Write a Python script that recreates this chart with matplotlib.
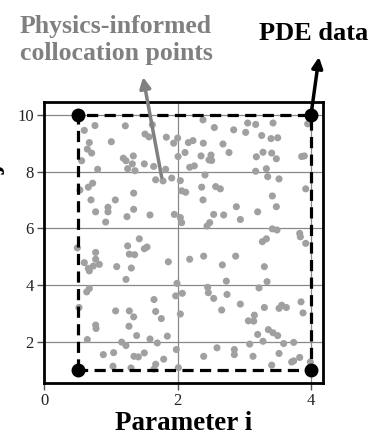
import numpy as np
import matplotlib.pyplot as plt

plt.rcParams['font.family'] = ['Liberation Serif', 'DejaVu Serif']

# corners of the PDE data box
pde_i = [0.5, 0.5, 4.0, 4.0]
pde_j = [1.0, 10.0, 10.0, 1.0]

# collocation points (parameter i, parameter j)
col_i = [0.60, 0.76, 0.675, 0.645, 0.71, 0.56, 0.80, 1.005, 1.215, 1.185,
         1.225, 1.335, 1.32, 1.25, 1.36, 1.50, 1.51, 1.57, 1.62, 1.64,
         1.67, 1.78, 1.82, 1.83, 1.91, 1.94, 2.00, 2.006, 2.04, 2.06,
         2.12, 2.16, 2.11, 2.18, 2.25, 0.535, 0.66, 0.725, 0.70, 0.77,
         1.065, 0.955, 0.955, 0.92, 1.24, 1.34, 1.34, 1.585, 1.95, 2.04,
         2.06, 0.495, 0.60, 0.77, 0.77, 0.825, 0.66, 1.086, 1.25, 1.275,
         1.355, 1.425, 1.50, 1.54, 1.305, 1.86, 2.18, 0.675, 0.735, 1.225,
         0.675, 0.636, 0.52, 0.77, 0.776, 0.645, 1.07, 1.275, 1.34, 1.27,
         1.385, 1.16, 1.225, 0.885, 1.04, 1.03, 1.30, 1.345, 1.41, 1.50,
         1.645, 1.67, 1.755, 1.585, 1.695, 1.845, 1.79, 1.67, 1.645, 1.98,
         2.01, 1.99, 1.97, 2.07, 2.04, 2.38, 2.55, 2.84, 3.02, 3.05,
         3.17, 3.43, 3.95, 3.26, 3.40, 3.50, 2.23, 2.385, 2.68, 2.35,
         2.50, 2.47, 2.51, 2.77, 3.18, 3.28, 3.41, 3.48, 3.86, 3.90,
         2.41, 3.17, 3.33, 3.35, 3.52, 2.36, 2.57, 2.64, 2.38, 3.92,
         3.42, 2.88, 3.48, 2.54, 2.69, 3.20, 2.94, 2.44, 2.48, 3.42,
         3.49, 3.83, 3.84, 3.27, 3.33, 3.92, 2.39, 2.87, 2.67, 3.30,
         3.34, 3.22, 2.73, 2.45, 2.46, 2.54, 2.74, 2.66, 2.94, 3.30,
         3.52, 3.56, 3.63, 3.85, 3.88, 3.06, 3.14, 3.15, 3.36, 3.43,
         3.50, 3.20, 3.08, 3.28, 3.59, 3.74, 2.59, 2.85, 2.85, 2.39,
         3.13, 3.52, 3.83, 3.74, 3.71, 3.41, 3.99]
col_j = [9.45, 9.62, 9.02, 8.79, 8.65, 8.38, 8.08, 9.05, 9.61, 8.47,
         8.38, 8.55, 8.27, 8.10, 8.03, 8.27, 9.32, 9.22, 9.65, 8.18,
         7.71, 7.67, 8.08, 9.21, 7.77, 9.00, 9.18, 8.53, 7.68, 7.32,
         7.27, 9.02, 8.67, 8.15, 8.20, 7.35, 7.45, 7.59, 7.00, 6.58,
         7.00, 6.74, 6.58, 6.22, 6.41, 6.67, 7.24, 6.47, 6.49, 6.38,
         6.20, 5.31, 4.79, 5.15, 4.91, 4.73, 4.59, 4.65, 5.38, 5.09,
         5.07, 5.63, 5.28, 5.34, 4.60, 4.82, 4.91, 4.50, 4.67, 4.20,
         3.88, 3.76, 3.21, 2.59, 2.47, 2.08, 3.09, 3.09, 2.88, 2.55,
         2.22, 1.99, 1.87, 1.55, 1.62, 1.14, 1.08, 1.49, 1.47, 1.61,
         3.49, 3.07, 2.82, 2.10, 1.96, 2.20, 1.39, 1.21, 1.04, 1.73,
         1.09, 4.06, 3.62, 3.71, 2.98, 9.82, 9.55, 9.47, 9.38, 9.71,
         9.66, 9.71, 9.68, 9.27, 9.16, 9.19, 9.09, 9.00, 8.97, 8.55,
         8.58, 8.41, 8.39, 8.67, 8.52, 8.68, 8.65, 8.45, 8.53, 8.55,
         7.88, 8.01, 8.10, 7.82, 7.74, 7.45, 7.47, 7.39, 7.00, 7.39,
         7.14, 6.76, 6.76, 6.49, 6.47, 6.58, 6.31, 6.08, 6.20, 5.98,
         5.94, 5.82, 5.70, 5.53, 5.63, 5.47, 5.02, 5.02, 4.71, 4.65,
         4.12, 3.90, 4.14, 3.92, 3.73, 3.53, 3.67, 3.12, 3.33, 3.21,
         3.18, 3.29, 3.21, 3.41, 3.02, 2.74, 2.73, 2.94, 2.43, 2.32,
         2.22, 2.26, 1.92, 2.02, 1.94, 1.98, 1.79, 1.73, 1.55, 1.49,
         1.49, 1.59, 1.45, 1.33, 1.29, 1.18, 1.29]

xticks = [0, 2, 4]
yticks = [2, 4, 6, 8, 10]

W, H = 373, 437
fig = plt.figure(figsize=(W / 100, H / 100), dpi=100)
ax = fig.add_axes([44.3 / W, 1 - 383 / H, 278.4 / W, 281 / H])

ax.grid(True, color='#888888', linewidth=0.9, zorder=0)
ax.set_axisbelow(True)

ax.scatter(col_i, col_j, s=26, color='#a0a0a0', edgecolors='none', zorder=2)

# dashed box through the corners
box_i = pde_i + [pde_i[0]]
box_j = pde_j + [pde_j[0]]
ax.plot(box_i, box_j, color='black', linestyle=(0, (3.5, 2)), linewidth=2.3, zorder=3)
ax.plot(pde_i, pde_j, 'o', color='black', markersize=9, zorder=4)

ax.set_xlim(0, 4.175)
ax.set_ylim(0.55, 10.45)
ax.set_xticks(xticks)
ax.set_yticks(yticks)
ax.tick_params(colors='#555555', labelcolor='#222222', labelsize=12,
               length=5, width=1, pad=2.5)
for sp in ax.spines.values():
    sp.set_linewidth(2)
    sp.set_color('black')

ax.set_xlabel('Parameter i', fontsize=19.5, fontweight='bold', labelpad=1.5)
ax.set_ylabel('Parameter j', fontsize=19.5, fontweight='bold')
ax.yaxis.set_label_coords(-0.141, 0.53)

# annotations (figure pixel positions converted to fractions)
def fpx(x, y):
    return (x / W, 1 - y / H)

fig.text(*fpx(116, 40), 'Physics-informed\ncollocation points', ha='center', va='center',
         multialignment='center', fontsize=18.5, fontweight='bold', color='#808080',
         linespacing=1.2)
ax.annotate('', xy=fpx(143, 77), xycoords='figure fraction',
            xytext=(1.76, 7.8), textcoords='data',
            arrowprops=dict(arrowstyle='-|>', color='#808080', lw=2.5,
                            mutation_scale=16, shrinkA=0, shrinkB=0),
            annotation_clip=False)

fig.text(*fpx(313.5, 33), 'PDE data', ha='center', va='center',
         fontsize=19, fontweight='bold', color='black')
ax.annotate('', xy=fpx(319, 57), xycoords='figure fraction',
            xytext=(4.0, 10.0), textcoords='data',
            arrowprops=dict(arrowstyle='-|>', color='black', lw=2.5,
                            mutation_scale=16, shrinkA=0, shrinkB=0),
            annotation_clip=False)

fig.savefig('out.png', dpi=100)
